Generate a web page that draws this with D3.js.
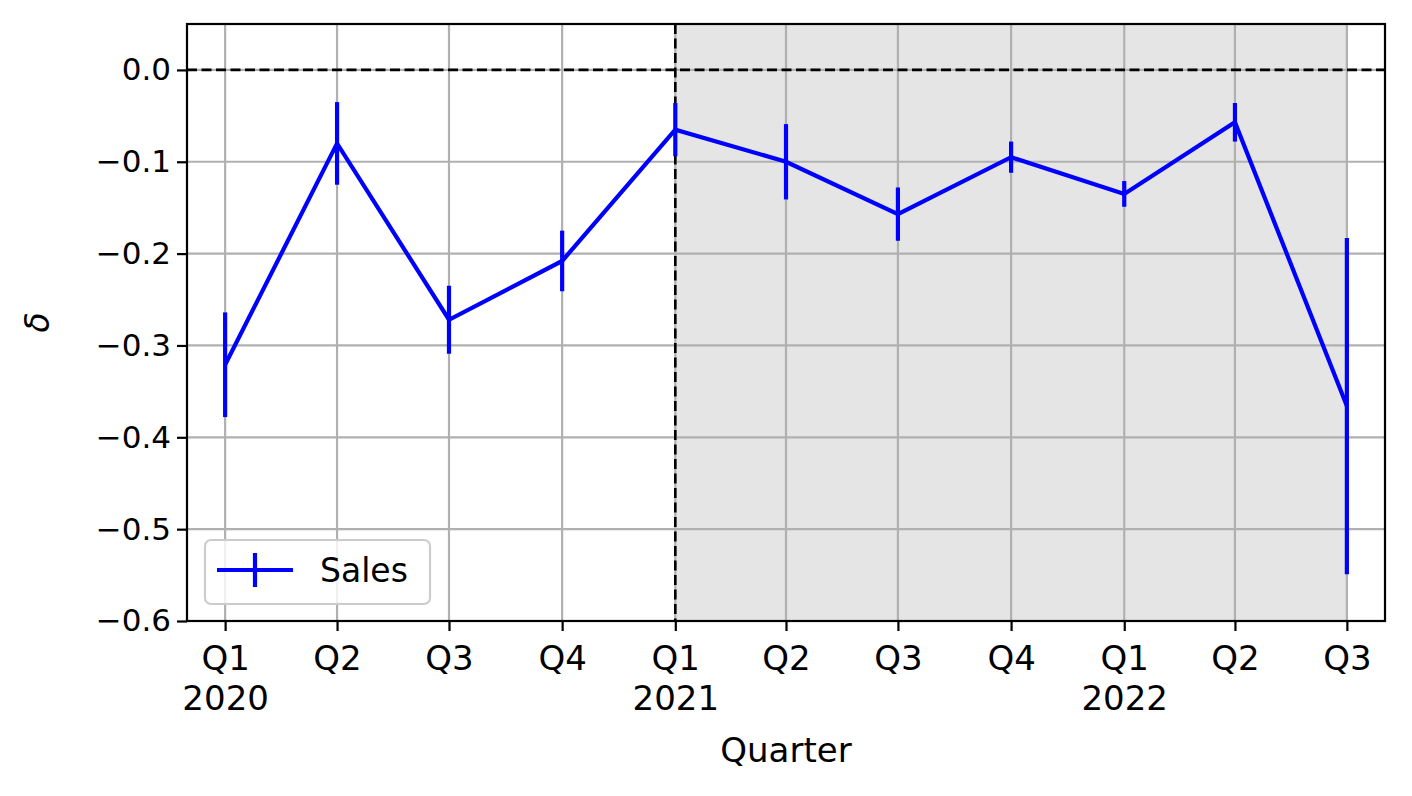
<!DOCTYPE html>
<meta charset="utf-8">
<style>
body { margin: 0; background: #fff; }
svg { display: block; font-family: "DejaVu Sans", sans-serif; }
.grid line { stroke: #b0b0b0; stroke-width: 2.2; }
.axis path, .axis line { stroke: #000; stroke-width: 2.2; }
.axis text { font-family: "DejaVu Sans", sans-serif; font-size: 34px; fill: #000; }
.axis--y text { font-size: 31px; }
</style>
<body>
<svg width="1412" height="796"></svg>
<script src="https://cdn.jsdelivr.net/npm/d3@7"></script>
<script>

// chart data
var quarters = ["Q1", "Q2", "Q3", "Q4", "Q1", "Q2", "Q3", "Q4", "Q1", "Q2", "Q3"];
var years    = ["2020", "", "", "", "2021", "", "", "", "2022", "", ""];
var starts   = ["2020-01-01", "2020-04-01", "2020-07-01", "2020-10-01",
                "2021-01-01", "2021-04-01", "2021-07-01", "2021-10-01",
                "2022-01-01", "2022-04-01", "2022-07-01"];
var sales    = [-0.321, -0.080, -0.272, -0.208, -0.065, -0.100, -0.157, -0.095, -0.135, -0.057, -0.366];
var salesErr = [0.057, 0.045, 0.037, 0.033, 0.029, 0.041, 0.029, 0.017, 0.014, 0.021, 0.183];
var yTicks   = [0.0, -0.1, -0.2, -0.3, -0.4, -0.5, -0.6];
var shadeFrom = "2021-01-01", shadeTo = "2022-07-01";

var parse = d3.utcParse("%Y-%m-%d");
var data = starts.map(function(s, i) {
  return {date: parse(s), q: quarters[i], yr: years[i], v: sales[i], e: salesErr[i]};
});

var svg = d3.select("svg"),
    margin = {top: 24, right: 27, bottom: 175, left: 187},
    width = svg.attr("width") - margin.left - margin.right,
    height = svg.attr("height") - margin.top - margin.bottom,
    g = svg.append("g").attr("transform", "translate(" + margin.left + "," + margin.top + ")");

// a month of padding each side
var x = d3.scaleUtc().domain([parse("2019-12-01"), parse("2022-08-01")]).range([0, width]),
    y = d3.scaleLinear().domain([-0.6, 0.05]).range([height, 0]);

// shaded forecast span
g.append("rect")
    .attr("x", x(parse(shadeFrom)))
    .attr("y", 0)
    .attr("width", x(parse(shadeTo)) - x(parse(shadeFrom)))
    .attr("height", height)
    .style("fill", "#e5e5e5");

// grid
var grid = g.append("g").attr("class", "grid");
grid.selectAll(".gx").data(data).enter().append("line")
    .attr("x1", function(d) { return x(d.date); })
    .attr("x2", function(d) { return x(d.date); })
    .attr("y1", 0).attr("y2", height);
grid.selectAll(".gy").data(yTicks).enter().append("line")
    .attr("x1", 0).attr("x2", width)
    .attr("y1", function(d) { return y(d); })
    .attr("y2", function(d) { return y(d); });

// reference lines
g.append("line")
    .attr("x1", 0).attr("x2", width)
    .attr("y1", y(0)).attr("y2", y(0))
    .style("stroke", "#000").style("stroke-width", 2.6)
    .style("stroke-dasharray", "10,4.5");
g.append("line")
    .attr("x1", x(parse(shadeFrom))).attr("x2", x(parse(shadeFrom)))
    .attr("y1", 0).attr("y2", height)
    .style("stroke", "#000").style("stroke-width", 2.6)
    .style("stroke-dasharray", "10,4.5");

// series line + error bars
var line = d3.line()
    .x(function(d) { return x(d.date); })
    .y(function(d) { return y(d.v); });

g.append("path")
    .datum(data)
    .attr("d", line)
    .style("fill", "none")
    .style("stroke", "#0000ff")
    .style("stroke-width", 4.2);

g.selectAll(".err").data(data).enter().append("line")
    .attr("class", "err")
    .attr("x1", function(d) { return x(d.date); })
    .attr("x2", function(d) { return x(d.date); })
    .attr("y1", function(d) { return y(d.v + d.e); })
    .attr("y2", function(d) { return y(d.v - d.e); })
    .style("stroke", "#0000ff")
    .style("stroke-width", 4.2);

// axes
var xAxis = g.append("g")
    .attr("class", "axis")
    .attr("transform", "translate(0," + height + ")")
    .call(d3.axisBottom(x).tickValues(data.map(function(d) { return d.date; }))
          .tickSize(10).tickFormat(""));
xAxis.select(".domain").remove();
xAxis.selectAll(".tick text").remove();
xAxis.selectAll(".tick").data(data).append("text")
    .attr("text-anchor", "middle")
    .attr("y", 49)
    .each(function(d) {
      var t = d3.select(this);
      t.append("tspan").attr("x", 0).text(d.q);
      if (d.yr) t.append("tspan").attr("x", 0).attr("dy", 40).text(d.yr);
    });

var fmt = d3.format(".1f");
var yAxis = g.append("g")
    .attr("class", "axis axis--y")
    .call(d3.axisLeft(y).tickValues(yTicks).tickSize(10).tickPadding(6)
          .tickFormat(function(d) { return fmt(d).replace("-", "\u2212"); }));
yAxis.select(".domain").remove();

// frame
g.append("rect")
    .attr("width", width).attr("height", height)
    .style("fill", "none").style("stroke", "#000").style("stroke-width", 2.2);

// labels
g.append("text")
    .attr("x", width / 2)
    .attr("y", height + 141)
    .attr("text-anchor", "middle")
    .style("font-size", "34px")
    .text("Quarter");

g.append("text")
    .attr("transform", "translate(" + (-138) + "," + (height / 2) + ") rotate(-90)")
    .attr("text-anchor", "middle")
    .style("font-size", "33px")
    .style("font-style", "italic")
    .text("\u03b4");

// legend
var lg = g.append("g").attr("transform", "translate(18," + (height - 81) + ")");
lg.append("rect")
    .attr("width", 225).attr("height", 64)
    .attr("rx", 6)
    .style("fill", "#fff").style("fill-opacity", 0.8)
    .style("stroke", "#cccccc").style("stroke-width", 2.2);
lg.append("line")
    .attr("x1", 12).attr("x2", 88).attr("y1", 30).attr("y2", 30)
    .style("stroke", "#0000ff").style("stroke-width", 4.2);
lg.append("line")
    .attr("x1", 50).attr("x2", 50).attr("y1", 13).attr("y2", 47)
    .style("stroke", "#0000ff").style("stroke-width", 4.2);
lg.append("text")
    .attr("x", 115).attr("y", 42)
    .style("font-size", "33px")
    .text("Sales");

</script>
</body>
